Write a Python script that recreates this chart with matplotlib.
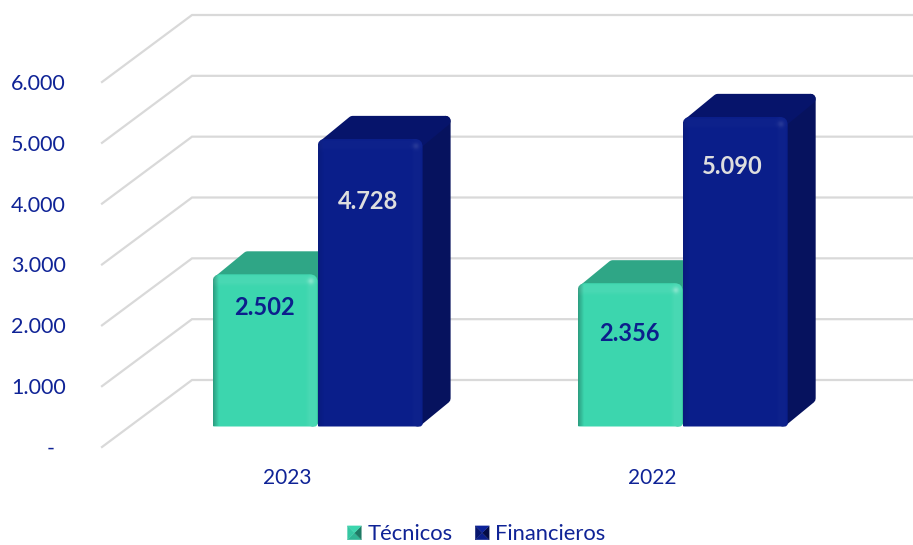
import numpy as np
import matplotlib
matplotlib.use("Agg")
import matplotlib.pyplot as plt
from matplotlib.patches import Polygon, PathPatch, Rectangle
from matplotlib.path import Path
from matplotlib.transforms import Affine2D, IdentityTransform
from matplotlib.legend_handler import HandlerBase

categories = ["2023", "2022"]
tecnicos = [2502, 2356]
financieros = [4728, 5090]
value_labels_tec = ["2.502", "2.356"]
value_labels_fin = ["4.728", "5.090"]
label_pos_tec = [1955, 1528]
label_pos_fin = [3700, 4275]
y_ticks = [0, 1000, 2000, 3000, 4000, 5000, 6000]
y_tick_labels = ["-  ", "1.000", "2.000", "3.000", "4.000", "5.000", "6.000"]
series_names = ["Técnicos", "Financieros"]

W, H = 913, 545
TEXT = "#0F2396"
GRID = "#D9D9D9"
plt.rcParams["font.family"] = ["Lato", "DejaVu Sans"]

fig = plt.figure(figsize=(W / 100, H / 100), dpi=100)
ax = fig.add_axes([102 / W, 1 - 447 / H, (823 - 102) / W, (447 - 82) / H])
ax.set_xlim(-0.507, 1.468)
ax.set_ylim(0, 6000)
ax.set_autoscale_on(False)
for s in ax.spines.values():
    s.set_visible(False)

PX = 365.0            # pixels per category
PY = 365.0 / 6000.0   # pixels per value unit

# gridlines: oblique on the side wall, horizontal on the back wall
wall_dx, wall_dy = 90 / PX, 67 / PY
for v in y_ticks:
    ax.plot([-0.507, -0.507 + wall_dx, 1.468 + wall_dx], [v, v + wall_dy, v + wall_dy],
            color=GRID, lw=1.6, clip_on=False, zorder=1, solid_joinstyle="miter")

ax.set_yticks(y_ticks)
ax.set_yticklabels(y_tick_labels, fontsize=15.5, color=TEXT)
ax.set_xticks(range(len(categories)))
ax.set_xticklabels(categories, fontsize=15, color=TEXT)
ax.tick_params(axis="y", length=0, pad=26)
ax.tick_params(axis="x", length=0, pad=15)

bar_tf = ax.transData + Affine2D().translate(30.5, 20.5)
bw = 105 / PX
dep_x, dep_y = 28 / PX, 23 / PY


def rounded(x0, x1, y0, y1, r):
    """display-space outline: rounded on top, nearly square at the foot"""
    s = 1.5
    verts = [(x0 + s, y0), (x1 - 3, y0), (x1, y0), (x1, y0 + 3), (x1, y1 - r), (x1, y1), (x1 - r, y1),
             (x0 + r, y1), (x0, y1), (x0, y1 - r), (x0, y0 + s), (x0, y0), (x0 + s, y0), (x0 + s, y0)]
    codes = [Path.MOVETO, Path.LINETO, Path.CURVE3, Path.CURVE3, Path.LINETO, Path.CURVE3, Path.CURVE3,
             Path.LINETO, Path.CURVE3, Path.CURVE3, Path.LINETO, Path.CURVE3, Path.CURVE3, Path.CLOSEPOLY]
    return Path(verts, codes)


def shade(w, h, light, dark, spot):
    """overlay giving the bevel of the front face"""
    xx, yy = np.meshgrid(np.arange(w) + .5, np.arange(h) + .5)
    from_r, from_l, from_t = w - xx, xx, yy
    ramp = lambda d: np.clip(d / 4, 0, 1) * np.clip((14 - d) / 5, 0, 1)
    glow = np.maximum(ramp(from_r), ramp(from_t)) * light
    glow = glow + spot * np.exp(-(((from_r - 8) ** 2 + (from_t - 8) ** 2) / 10))
    dim = np.clip(1 - from_l / 6, 0, 1) * dark
    arr = np.zeros((h, w, 4))
    arr[..., :3] = (glow / (glow + dim + 1e-9))[..., None]
    arr[..., 3] = np.clip(glow + dim, 0, 1)
    return arr


def draw_bar(xc, v, front, top, side, light, dark, spot, z):
    x0, x1 = xc - bw / 2, xc + bw / 2
    inx, iny = 5 / PX, 5 / PY
    # side face
    ax.add_patch(Polygon([(x1 - inx, iny), (x1 + dep_x - inx, dep_y + iny), (x1 + dep_x - inx, v + dep_y - iny),
                          (x1 - inx, v - iny)],
                         closed=True, fc=side, ec=side, lw=7.2, joinstyle="round", transform=bar_tf,
                         clip_on=False, zorder=z))
    # top face
    ax.add_patch(Polygon([(x0 + 7 / PX, v - iny), (x0 + dep_x + 7 / PX, v + dep_y - iny),
                          (x1 + dep_x - inx, v + dep_y - iny), (x1 - inx, v - iny)],
                         closed=True, fc=top, ec=top, lw=7.2, joinstyle="round", transform=bar_tf,
                         clip_on=False, zorder=z + .1))
    # front face
    bar = ax.bar(xc, v, bw, color=front, lw=0, transform=bar_tf, clip_on=True, zorder=z + .2)[0]
    (a0, b0), (a1, b1) = bar_tf.transform([(x0, 0), (x1, v)])
    clip = PathPatch(rounded(a0, a1, b0, b1, 8), transform=IdentityTransform())
    bar.set_clip_path(clip)
    im = ax.imshow(shade(int(round(a1 - a0)), int(round(b1 - b0)), light, dark, spot),
                   extent=[x0, x1, 0, v], aspect="auto", transform=bar_tf,
                   interpolation="bilinear", zorder=z + .3)
    im.set_clip_path(clip)


for i in range(len(categories)):
    xa, xb = i - bw / 2, i + bw / 2
    draw_bar(xa, tecnicos[i], "#3CD6AE", "#2FA686", "#2A9E80", .07, .28, .3, 2)
    draw_bar(xb, financieros[i], "#0A1E8A", "#06146B", "#06125E", .018, .10, .10, 3)
    ax.text(xa - 1 / PX, label_pos_tec[i], value_labels_tec[i], transform=bar_tf, ha="center", va="center",
            fontsize=17, fontweight="bold", color="#0C1F8C", zorder=6)
    ax.text(xb - 2.5 / PX, label_pos_fin[i], value_labels_fin[i], transform=bar_tf, ha="center", va="center",
            fontsize=17, fontweight="bold", color="#DEDEDE", zorder=6)

ax.set_xlim(-0.507, 1.468)
ax.set_ylim(0, 6000)


class PyramidHandler(HandlerBase):
    def __init__(self, shades):
        super().__init__()
        self.shades = shades

    def create_artists(self, legend, orig, xd, yd, width, height, fontsize, trans):
        s = 10.0
        x0, y0 = -xd + width - s, -yd + (height - s) / 2
        c = (x0 + s / 2, y0 + s / 2)
        corners = [(x0, y0), (x0 + s, y0), (x0 + s, y0 + s), (x0, y0 + s)]
        return [Polygon([corners[k], corners[(k + 1) % 4], c], closed=True, fc=col, ec=col, lw=.2, transform=trans)
                for k, col in enumerate(self.shades)]


h1 = Rectangle((0, 0), 1, 1, fc="#3CD6AE")
h2 = Rectangle((0, 0), 1, 1, fc="#0A1E8A")
leg = fig.legend([h1, h2], series_names, loc="center", bbox_to_anchor=(476.5 / W, 1 - 534.5 / H), ncols=2,
                 frameon=False, fontsize=15.8, labelcolor=TEXT, handlelength=.625, handleheight=.7,
                 handletextpad=.27, columnspacing=1.05, borderpad=0, borderaxespad=0,
                 handler_map={h1: PyramidHandler(["#2FB594", "#1E7A64", "#3CD6AE", "#35C7A2"]),
                              h2: PyramidHandler(["#0A1E8A", "#040C45", "#0C2299", "#08176F"])})

fig.savefig("out.png", dpi=100, facecolor="white")
